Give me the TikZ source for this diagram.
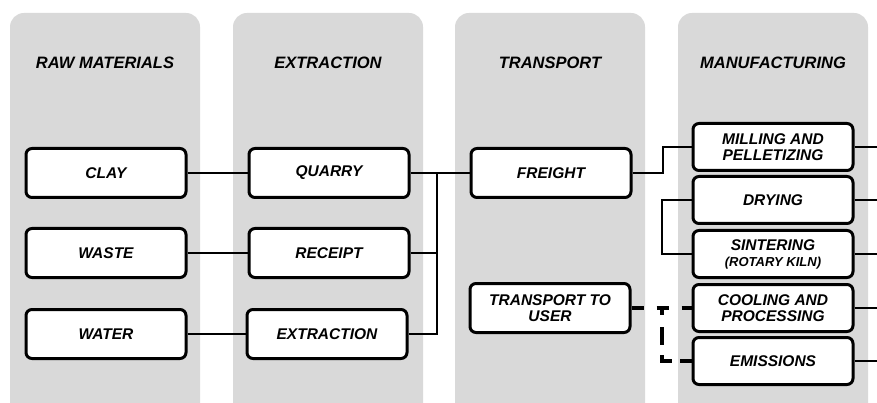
\documentclass[tikz,border=0pt]{standalone}
\usepackage{fontspec}
\setmainfont{Liberation Sans}
\usetikzlibrary{positioning}
\definecolor{panelColor}{RGB}{217,217,217}
\newcommand{\boxFont}{\fontsize{15.5}{16}\selectfont\bfseries\itshape}
\newcommand{\headFont}{\fontsize{16.5}{18}\selectfont\bfseries\itshape}
\newcommand{\kilnFont}{\fontsize{13}{14}\selectfont}

\begin{document}
\begin{tikzpicture}[x=1pt,y=-1pt]

          \clip (0,0) rectangle (877,403);

          \tikzstyle{panel} = [fill=panelColor, rounded corners=14pt];
          \tikzstyle{heading} = [font=\headFont];
          \tikzstyle{stageBox} = [draw, line width=3pt, rounded corners=6pt, fill=white, minimum width=160pt, minimum height=49pt, inner sep=0pt, align=center, font=\boxFont];
          \tikzstyle{mfgBox} = [stageBox, minimum height=47pt];

          \tikzstyle{link} = [line width=2.8pt];
          \tikzstyle{dashLink} = [line width=3.6pt, dash pattern=on 12pt off 13pt];
          \tikzstyle{dashLinkBis} = [line width=3.6pt, dash pattern=on 7pt off 12pt on 18pt off 10pt on 16pt off 8pt on 20pt];

          % columns
          \fill[panel] (10,13) rectangle (200,440);
          \fill[panel] (233,13) rectangle (423,440);
          \fill[panel] (455,13) rectangle (645,440);
          \fill[panel] (678,13) rectangle (868,440);

          \node[heading] (hRaw) at (105,63) {RAW MATERIALS};
          \node[heading] (hExtr) at (328,63) {EXTRACTION};
          \node[heading] (hTrans) at (550,63) {TRANSPORT};
          \node[heading] (hMfg) at (773,63) {MANUFACTURING};

          \node[stageBox] (clay) at (106,173) {CLAY};
          \node[stageBox] (waste) at (106,253) {WASTE};
          \node[stageBox] (water) at (106,334) {WATER};

          \node[stageBox] (quarry) at (329,173) {QUARRY};
          \node[stageBox] (receipt) at (329,253) {RECEIPT};
          \node[stageBox] (extr) at (327,334) {EXTRACTION};

          \node[stageBox] (freight) at (551,173) {FREIGHT};
          \node[stageBox] (toUser) at (550,308) {TRANSPORT TO\\USER};

          \node[mfgBox] (milling) at (773,147) {MILLING AND\\PELLETIZING};
          \node[mfgBox] (drying) at (773,200) {DRYING};
          \node[mfgBox] (sintering) at (773,254) {SINTERING\\{\kilnFont (ROTARY KILN)}};
          \node[mfgBox] (cooling) at (773,308) {COOLING AND\\PROCESSING};
          \node[mfgBox] (emissions) at (773,361) {EMISSIONS};

          \coordinate (splitX) at (437,173);
          \coordinate (millBend) at (663,173);
          \coordinate (dryBend) at (662,200);
          \coordinate (emBend) at (662,308);
          \coordinate (rightEdge) at (885,0);

          \draw[link] (clay) -- (quarry);
          \draw[link] (waste) -- (receipt);
          \draw[link] (water) -- (extr);
          \draw[link] (quarry) -- (freight);
          \draw[link] (receipt.east) -- (receipt.east -| splitX);
          \draw[link] (extr.east) -| (splitX);
          \draw[link] (freight.east) -- (millBend) |- (milling.west);
          \draw[link] (drying.west) -- (dryBend) |- (sintering.west);
          \draw[dashLink] (toUser.east) -- (cooling.west);
          \draw[dashLinkBis] (emBend) |- (emissions.west);

          \foreach \n in {milling,drying,sintering,cooling,emissions}
            \draw[link] (\n.east) -- (\n.east -| rightEdge);
        \end{tikzpicture}
\end{document}
